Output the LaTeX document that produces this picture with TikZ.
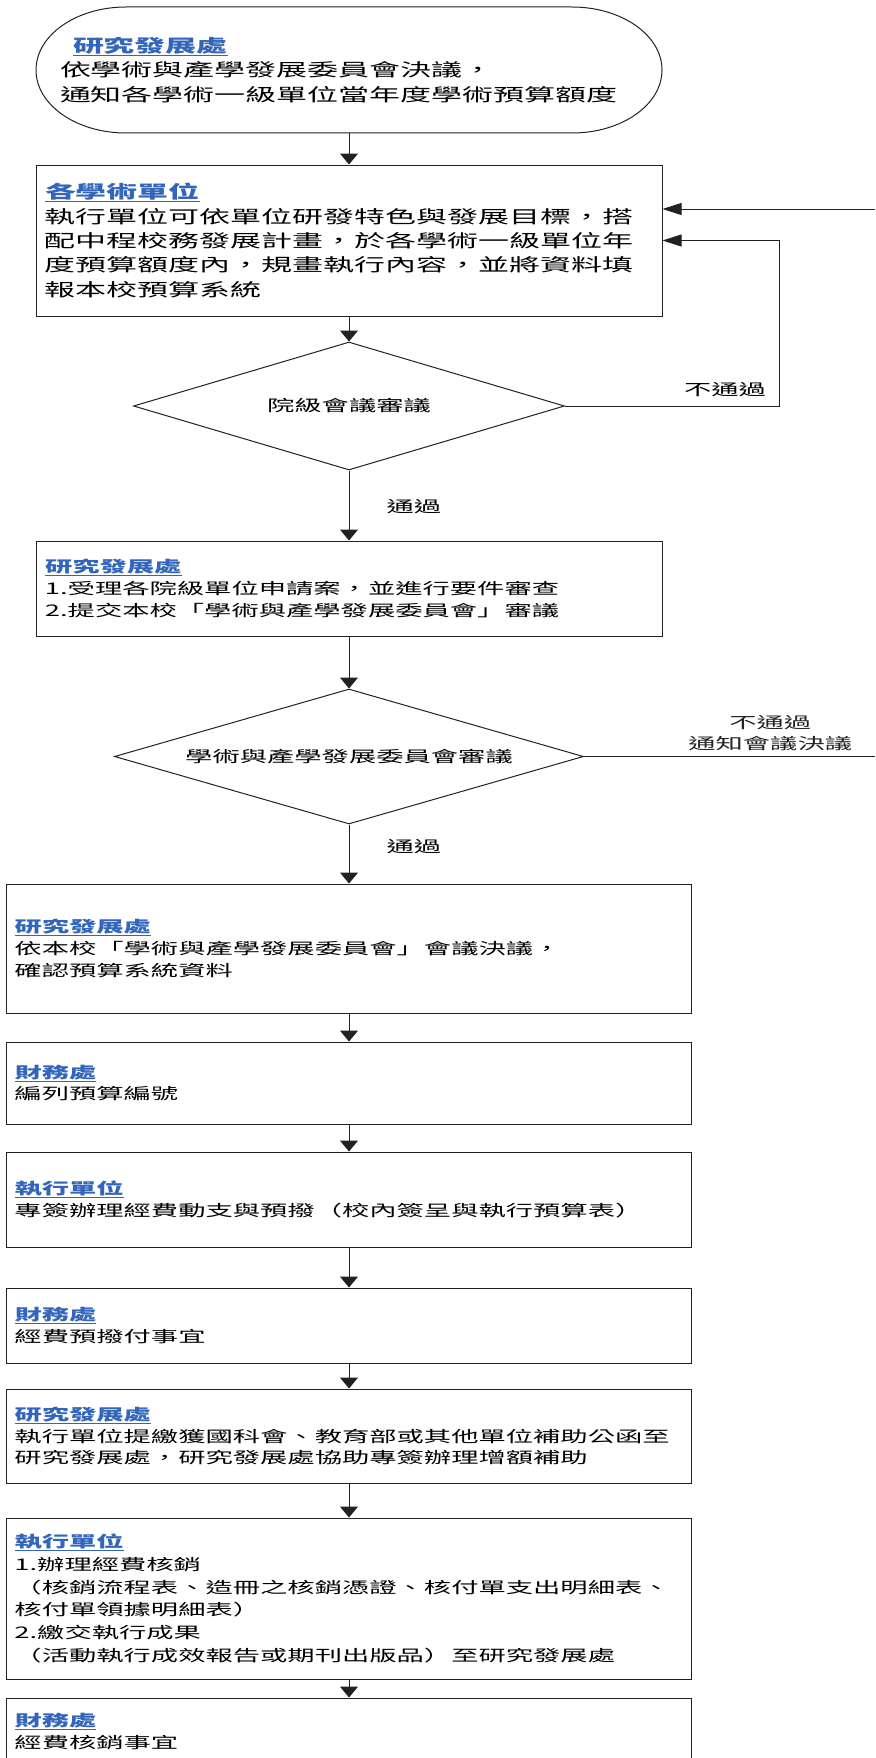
\documentclass[tikz,border=0pt]{standalone}
\usepackage{fontspec}
\setmainfont{Noto Sans CJK TC}[FakeStretch=1.75,Script=CJK,Language=Chinese Traditional]
\usepackage{tikz}
\usetikzlibrary{positioning,arrows.meta,shapes.geometric}
\definecolor{deptblue}{HTML}{3366BB}
\definecolor{edge}{HTML}{222222}
% office name: blue, underlined
\newcommand{\dept}[1]{{\color{deptblue}\setbox0\hbox{\bfseries #1}\rlap{\rule[-3.5pt]{\wd0}{1.2pt}}\box0}}
\newcommand{\bigtext}{\fontsize{17.7pt}{24.3pt}\selectfont}
\newcommand{\normtext}{\fontsize{15.6pt}{21.6pt}\selectfont}

\begin{document}
\begin{tikzpicture}[x=1pt,y=-1pt,line width=1pt,
  procbox/.style={draw=edge,rectangle,align=left,inner xsep=8pt,inner ysep=0pt,
    text width=669pt,minimum height=#1,font=\normtext},
  decision/.style={draw=edge,diamond,inner sep=0pt,font=\normtext},
  vflow/.style={draw=edge,-{Triangle[length=11pt,width=18pt]}},
  hflow/.style={draw=edge,-{Triangle[length=19pt,width=12pt]}},
  lbl/.style={inner sep=0pt,font=\normtext}]
\useasboundingbox (0,0) rectangle (875,1758);

% start: research office notice
\node[rectangle,minimum width=626pt,minimum height=126pt,text width=578pt,
  inner xsep=24pt,align=left,font=\bigtext] (start) at (349,70)
  {\hspace*{13pt}\dept{研究發展處}\\依學術與產學發展委員會決議，\\通知各學術一級單位當年度學術預算額度};
\draw[edge] (126,7) -- (572,7) .. controls (621.7,7) and (662,35.2) .. (662,70)
  .. controls (662,104.8) and (621.7,133) .. (572,133) -- (126,133)
  .. controls (76.3,133) and (36,104.8) .. (36,70)
  .. controls (36,35.2) and (76.3,7) .. (126,7) -- cycle;

\node[procbox=151pt,text width=608pt,inner xsep=9pt,font=\bigtext] (b1) at (349,240.5)
  {\dept{各學術單位}\\執行單位可依單位研發特色與發展目標，搭\\配中程校務發展計畫，於各學術一級單位年\\度預算額度內，規畫執行內容，並將資料填\\報本校預算系統};
\node[decision,aspect=3.37,minimum width=431pt,minimum height=128pt] (d1) at (349,406) {院級會議審議};
\node[procbox=95pt,text width=608pt,inner xsep=9pt] (b2) at (349,588.5)
  {\dept{研究發展處}\\1.受理各院級單位申請案，並進行要件審查\\2.提交本校「學術與產學發展委員會」審議};
\node[decision,aspect=3.47,minimum width=469pt,minimum height=135pt] (d2) at (349,756.5) {學術與產學發展委員會審議};
\node[procbox=129pt] (b3) at (349,948.5)
  {\dept{研究發展處}\\依本校「學術與產學發展委員會」會議決議，\\確認預算系統資料};
\node[procbox=82pt] (b4) at (349,1083) {\dept{財務處}\\編列預算編號};
\node[procbox=95pt] (b5) at (349,1199.5) {\dept{執行單位}\\專簽辦理經費動支與預撥（校內簽呈與執行預算表）};
\node[procbox=75pt] (b6) at (349,1325.5) {\dept{財務處}\\經費預撥付事宜};
\node[procbox=94pt] (b7) at (349,1436)
  {\dept{研究發展處}\\執行單位提繳獲國科會、教育部或其他單位補助公函至\\研究發展處，研究發展處協助專簽辦理增額補助};
\node[procbox=161pt,font=\fontsize{15.6pt}{22.8pt}\selectfont] (b8) at (349,1598.5)
  {\dept{執行單位}\\1.辦理經費核銷\\（核銷流程表、造冊之核銷憑證、核付單支出明細表、\\核付單領據明細表）\\2.繳交執行成果\\（活動執行成效報告或期刊出版品）至研究發展處};
\node[procbox=67pt] (b9) at (349,1731.5) {\dept{財務處}\\經費核銷事宜};

% main flow
\draw[vflow] (start.south) -- (b1.north);
\draw[vflow] (b1.south) -- (d1.north);
\draw[vflow] (d1.south) -- node[lbl,pos=0.51,right=37pt] {通過} (b2.north);
\draw[vflow] (b2.south) -- (d2.north);
\draw[vflow] (d2.south) -- node[lbl,pos=0.38,right=37pt] {通過} (b3.north);
\draw[vflow] (b3.south) -- (b4.north);
\draw[vflow] (b4.south) -- (b5.north);
\draw[vflow] (b5.south) -- (b6.north);
\draw[vflow] (b6.south) -- (b7.north);
\draw[vflow] (b7.south) -- (b8.north);
\draw[vflow] (b8.south) -- (b9.north);

% returns to the academic units
\coordinate (bend1) at (779,300);
\coordinate (rim1) at (875,209);
\coordinate (rim2) at (875,756.5);
\draw[hflow] (d1.east) -| node[lbl,pos=0.374,above=8.5pt] {不通過} (bend1) |- (b1.east);
\draw[edge] (d2.east) -- node[lbl,pos=0.64,above=5pt,align=center] {不通過\\通知會議決議} (rim2);
\draw[hflow] (rim1) -- (rim1 -| b1.east);
\end{tikzpicture}
\end{document}
